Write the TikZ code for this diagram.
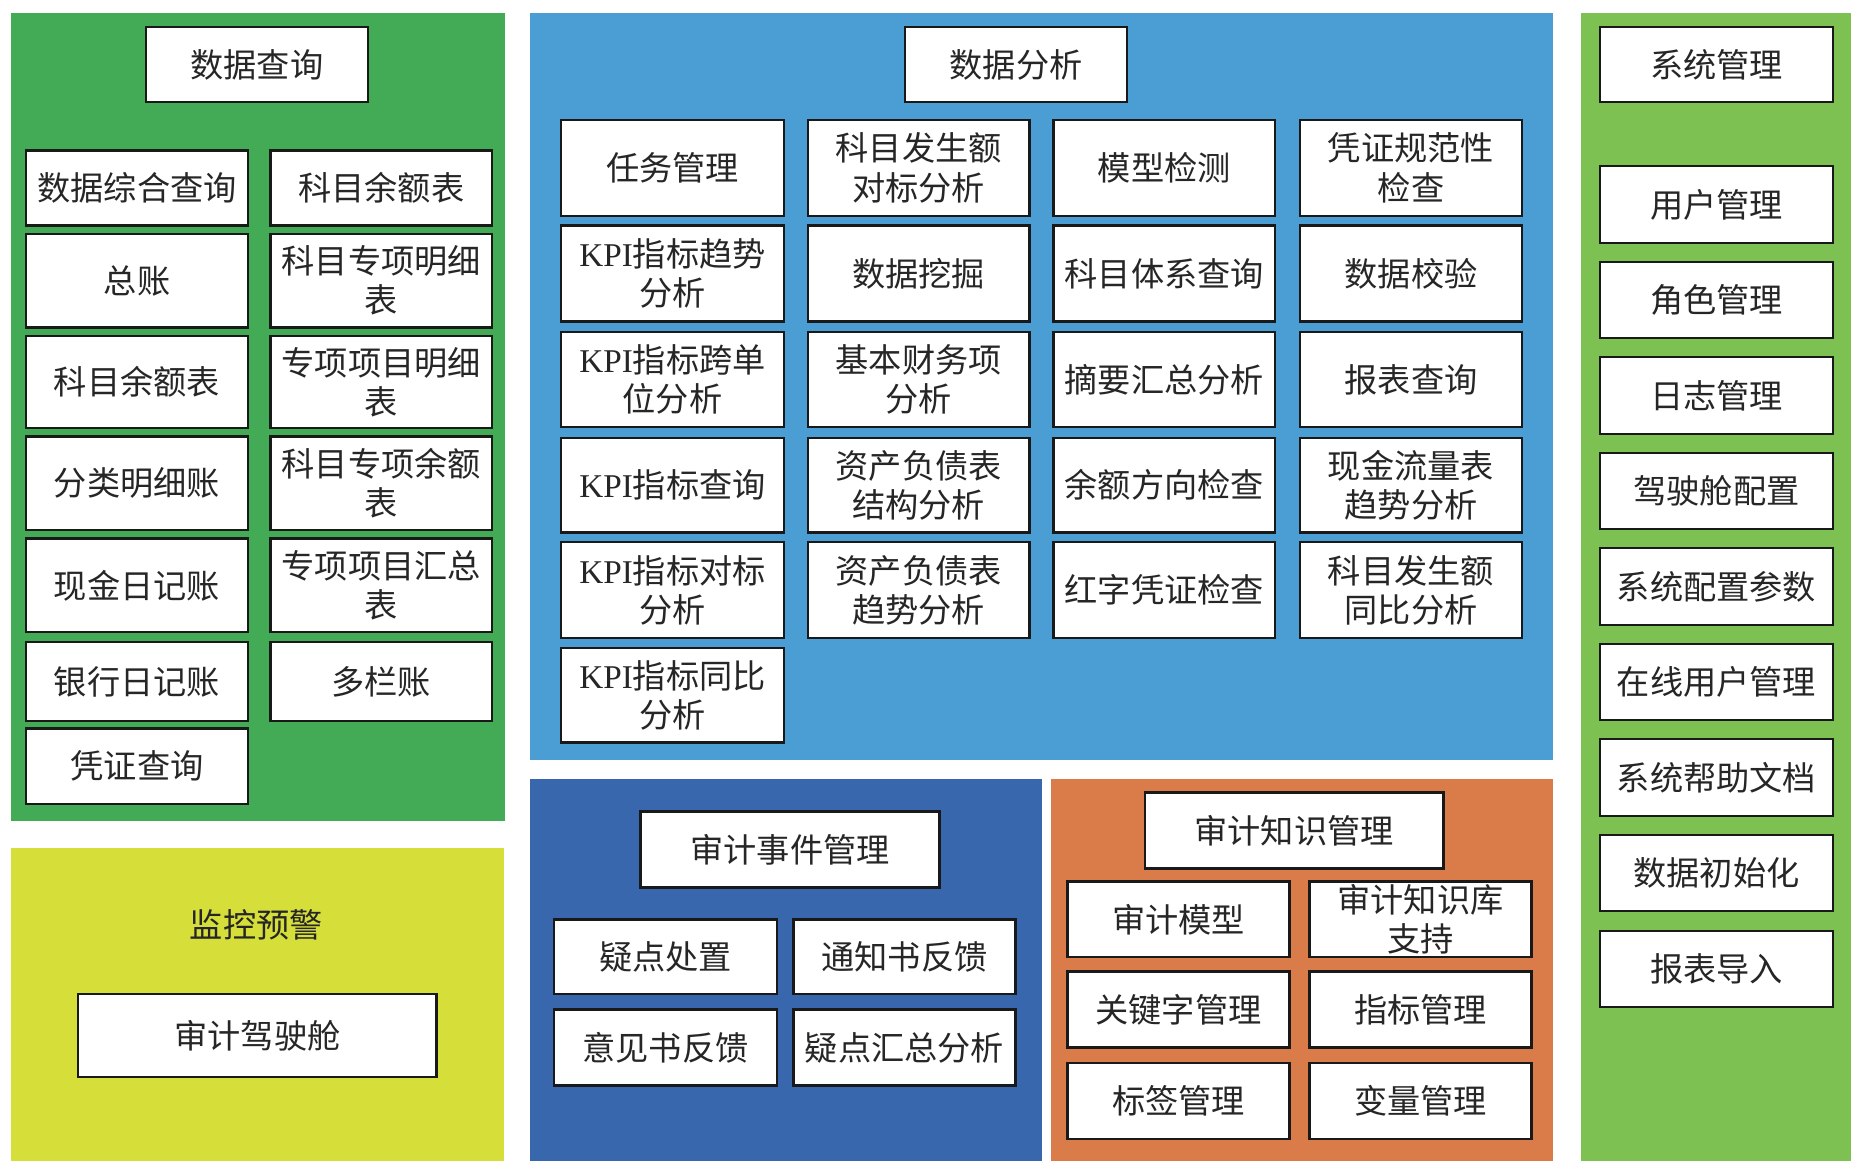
\documentclass[tikz,border=0pt]{standalone}
\usepackage{fontspec}
\setmainfont{Liberation Serif}
\newfontfamily\cjk{Noto Sans CJK SC}
\newcommand\kpi{{\rmfamily KPI}}
\definecolor{pgreen}{HTML}{43AA55}
\definecolor{pyellow}{HTML}{D6DE3A}
\definecolor{pblue}{HTML}{4B9ED4}
\definecolor{pdblue}{HTML}{3867AE}
\definecolor{porange}{HTML}{D97C4A}
\definecolor{plgreen}{HTML}{7CC152}
\tikzset{
  box/.style={draw=black!90, line width=1pt, fill=white, inner sep=0pt, align=center,
    font=\cjk\fontsize{14}{16.5}\selectfont, text=black!85},
  label/.style={inner sep=0pt, font=\cjk\fontsize{14}{16.5}\selectfont, text=black!85}
}
\newcommand\mybox[6]{\node[box, minimum width={(#4-#2)*0.5pt}, minimum height={(#5-#3)*0.5pt}] (#1) at ({(#2+#4)/2},{(#3+#5)/2}) {#6};}
\begin{document}
\begin{tikzpicture}[x=0.5pt,y=-0.5pt]
\useasboundingbox (0,0) rectangle (1568,987);
\fill[white] (0,0) rectangle (1568,987);
% panels
\fill[pgreen] (9,11) rectangle (426,692);
\fill[pyellow] (9,715) rectangle (425,979);
\fill[pblue] (447,11) rectangle (1309,641);
\fill[pdblue] (447,657) rectangle (878,979);
\fill[porange] (886,657) rectangle (1309,979);
\fill[plgreen] (1333,11) rectangle (1560,979);
% data query
\mybox{q0}{123}{23}{310}{86}{数据查询}
\mybox{q11}{22}{127}{209}{190}{数据综合查询}
\mybox{q12}{228}{127}{415}{190}{科目余额表}
\mybox{q21}{22}{197}{209}{276}{总账}
\mybox{q22}{228}{197}{415}{276}{科目专项明细\\表}
\mybox{q31}{22}{283}{209}{361}{科目余额表}
\mybox{q32}{228}{283}{415}{361}{专项项目明细\\表}
\mybox{q41}{22}{368}{209}{447}{分类明细账}
\mybox{q42}{228}{368}{415}{447}{科目专项余额\\表}
\mybox{q51}{22}{454}{209}{533}{现金日记账}
\mybox{q52}{228}{454}{415}{533}{专项项目汇总\\表}
\mybox{q61}{22}{541}{209}{608}{银行日记账}
\mybox{q62}{228}{541}{415}{608}{多栏账}
\mybox{q71}{22}{614}{209}{678}{凭证查询}
% monitoring
\node[label] (m0) at (216,780) {监控预警};
\mybox{m1}{66}{838}{368}{908}{审计驾驶舱}
% data analysis
\mybox{a0}{763}{23}{950}{86}{数据分析}
\mybox{a11}{473}{101}{661}{182}{任务管理}
\mybox{a12}{681}{101}{868}{182}{科目发生额\\对标分析}
\mybox{a13}{888}{101}{1075}{182}{模型检测}
\mybox{a14}{1096}{101}{1283}{182}{凭证规范性\\检查}
\mybox{a21}{473}{190}{661}{271}{\kpi 指标趋势\\分析}
\mybox{a22}{681}{190}{868}{271}{数据挖掘}
\mybox{a23}{888}{190}{1075}{271}{科目体系查询}
\mybox{a24}{1096}{190}{1283}{271}{数据校验}
\mybox{a31}{473}{280}{661}{360}{\kpi 指标跨单\\位分析}
\mybox{a32}{681}{280}{868}{360}{基本财务项\\分析}
\mybox{a33}{888}{280}{1075}{360}{摘要汇总分析}
\mybox{a34}{1096}{280}{1283}{360}{报表查询}
\mybox{a41}{473}{369}{661}{449}{\kpi 指标查询}
\mybox{a42}{681}{369}{868}{449}{资产负债表\\结构分析}
\mybox{a43}{888}{369}{1075}{449}{余额方向检查}
\mybox{a44}{1096}{369}{1283}{449}{现金流量表\\趋势分析}
\mybox{a51}{473}{457}{661}{538}{\kpi 指标对标\\分析}
\mybox{a52}{681}{457}{868}{538}{资产负债表\\趋势分析}
\mybox{a53}{888}{457}{1075}{538}{红字凭证检查}
\mybox{a54}{1096}{457}{1283}{538}{科目发生额\\同比分析}
\mybox{a61}{473}{546}{661}{626}{\kpi 指标同比\\分析}
% audit events
\mybox{e0}{540}{684}{792}{748}{审计事件管理}
\mybox{e11}{467}{775}{655}{838}{疑点处置}
\mybox{e12}{669}{775}{856}{838}{通知书反馈}
\mybox{e21}{467}{851}{655}{915}{意见书反馈}
\mybox{e22}{669}{851}{856}{915}{疑点汇总分析}
% audit knowledge
\mybox{k0}{965}{668}{1217}{732}{审计知识管理}
\mybox{k11}{900}{743}{1087}{807}{审计模型}
\mybox{k12}{1104}{743}{1291}{807}{\fontsize{14}{14.5}\selectfont 审计知识库\\支持}
\mybox{k21}{900}{819}{1087}{883}{关键字管理}
\mybox{k22}{1104}{819}{1291}{883}{指标管理}
\mybox{k31}{900}{896}{1087}{960}{标签管理}
\mybox{k32}{1104}{896}{1291}{960}{变量管理}
% system management
\mybox{s0}{1349}{23}{1545}{86}{系统管理}
\mybox{s1}{1349}{140}{1545}{205}{用户管理}
\mybox{s2}{1349}{221}{1545}{285}{角色管理}
\mybox{s3}{1349}{301}{1545}{366}{日志管理}
\mybox{s4}{1349}{382}{1545}{446}{驾驶舱配置}
\mybox{s5}{1349}{462}{1545}{527}{系统配置参数}
\mybox{s6}{1349}{543}{1545}{607}{在线用户管理}
\mybox{s7}{1349}{623}{1545}{688}{系统帮助文档}
\mybox{s8}{1349}{704}{1545}{768}{数据初始化}
\mybox{s9}{1349}{785}{1545}{849}{报表导入}
\end{tikzpicture}
\end{document}
